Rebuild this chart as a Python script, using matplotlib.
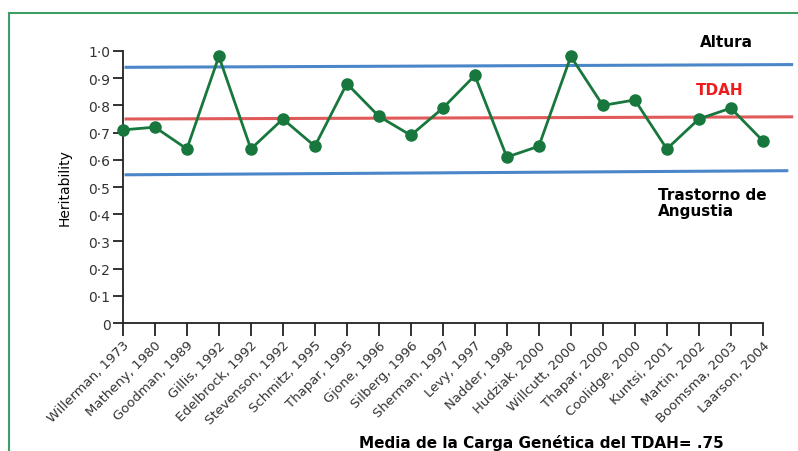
import numpy as np
import matplotlib.pyplot as plt
from matplotlib.patches import Rectangle

studies = ["Willerman, 1973", "Matheny, 1980", "Goodman, 1989", "Gillis, 1992",
           "Edelbrock, 1992", "Stevenson, 1992", "Schmitz, 1995", "Thapar, 1995",
           "Gjone, 1996", "Silberg, 1996", "Sherman, 1997", "Levy, 1997",
           "Nadder, 1998", "Hudziak, 2000", "Willcutt, 2000", "Thapar, 2000",
           "Coolidge, 2000", "Kuntsi, 2001", "Martin, 2002", "Boomsma, 2003",
           "Laarson, 2004"]
heritability = [0.71, 0.72, 0.64, 0.98, 0.64, 0.75, 0.65, 0.88, 0.76, 0.69,
                0.79, 0.91, 0.61, 0.65, 0.98, 0.80, 0.82, 0.64, 0.75, 0.79, 0.67]

# reference lines (left end, right end)
altura = [0.94, 0.95]
tdah = [0.75, 0.758]
angustia = [0.545, 0.56]

yticks = np.arange(0, 1.01, 0.1)
ylabels = ["0"] + ["{:.1f}".format(v).replace(".", "\u00b7") for v in yticks[1:]]

fig = plt.figure(figsize=(7.98, 4.52), dpi=100)
fig.patches.append(Rectangle((0.011, -0.1), 1.2, 1.07, transform=fig.transFigure,
                             fill=False, edgecolor="#3f9e63", linewidth=1.5))

ax = fig.add_axes([0.154, 0.283, 0.842, 0.602])
x = np.arange(len(studies))

ax.plot([0.1, 20.9], altura, color="#4a86c8", lw=2.2, clip_on=False, zorder=1)
ax.plot([0.1, 20.9], tdah, color="#e05a5a", lw=2.2, clip_on=False, zorder=1)
ax.plot([0.1, 20.75], angustia, color="#4a86c8", lw=2.2, clip_on=False, zorder=1)

ax.plot(x, heritability, color="#17773c", lw=2, marker="o", ms=8,
        clip_on=False, zorder=3)

ax.set_xlim(0, 21)
ax.set_ylim(0, 1.0)
ax.spines["top"].set_visible(False)
ax.spines["right"].set_visible(False)
ax.spines["bottom"].set_bounds(0, 20)
for s in ("left", "bottom"):
    ax.spines[s].set_linewidth(1.3)
    ax.spines[s].set_color("#222222")

ax.set_yticks(yticks)
ax.set_yticklabels(ylabels, fontsize=10, color="#333333")
ax.set_xticks(x)
ax.set_xticklabels(studies, rotation=45, ha="right", rotation_mode="anchor",
                   fontsize=9.5, color="#333333")
ax.tick_params(axis="x", length=9, width=1.3, color="#222222", pad=2)
ax.tick_params(axis="y", length=7, width=1.3, color="#222222", pad=2)

ax.set_ylabel("Heritability", fontsize=10, labelpad=12)

fig.text(0.877, 0.905, "Altura", fontsize=11, fontweight="bold", ha="left", va="center")
fig.text(0.872, 0.80, "TDAH", fontsize=11, fontweight="bold", color="#ee1c1c",
         ha="left", va="center")
fig.text(0.824, 0.549, "Trastorno de\nAngustia", fontsize=11, fontweight="bold",
         ha="left", va="center", linespacing=1.1)
fig.text(0.678, 0.02, "Media de la Carga Genética del TDAH= .75", fontsize=11,
         fontweight="bold", ha="center", va="center")

fig.savefig("out.png", dpi=100)
